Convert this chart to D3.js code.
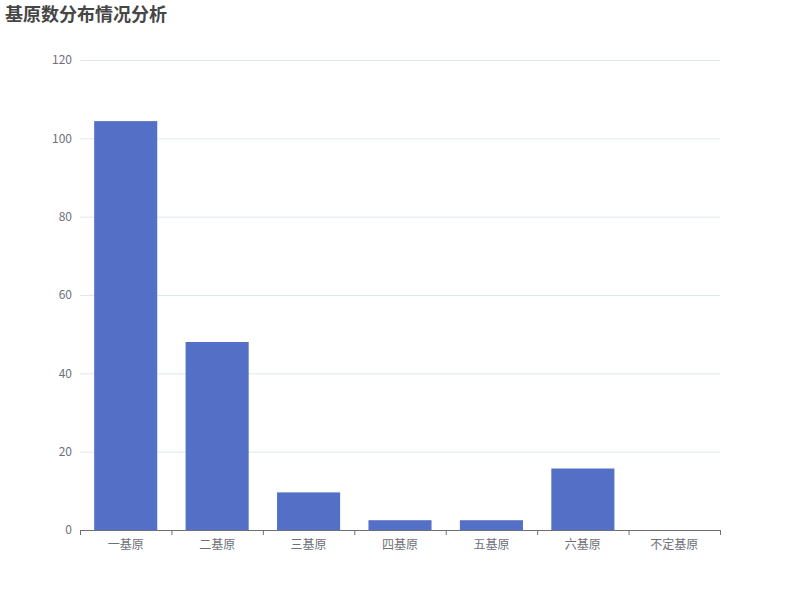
<!DOCTYPE html>
<html>
<head>
<meta charset="utf-8">
<script src="https://cdn.jsdelivr.net/npm/d3@7/dist/d3.min.js"></script>
<style>
  body { margin: 0; background: #fff; }
  svg text { font-family: "Noto Sans CJK SC", "Noto Sans", sans-serif; }
</style>
</head>
<body>
<div id="chart"></div>
<script>
const categories = ['一基原', '二基原', '三基原', '四基原', '五基原', '六基原', '不定基原']
const counts = [104.4, 48, 9.6, 2.5, 2.5, 15.7, 0]
const yTicks = [0, 20, 40, 60, 80, 100, 120]
const title = '基原数分布情况分析'

const margin = {top: 60, right: 80, bottom: 70, left: 80}
const width = 800 - margin.left - margin.right
const height = 600 - margin.top - margin.bottom

const x = d3.scaleBand()
  .domain(categories)
  .range([0, width])
  .paddingInner(0.31)
  .paddingOuter(0.155)
const xAxisScale = d3.scaleBand().domain(categories).range([0, width])
const y = d3.scaleLinear()
  .domain([0, 120])
  .range([height, 0])

const svg = d3.select('#chart').append('svg')
  .attr('width', 800)
  .attr('height', 600)

svg.append('text')
  .attr('x', 5)
  .attr('y', 21)
  .attr('font-size', 18)
  .attr('font-weight', 'bold')
  .attr('fill', '#464646')
  .text(title)

const chart = svg.append('g')
  .attr('transform', `translate(${margin.left}, ${margin.top})`)

// grid
chart.append('g')
  .selectAll('line').data(yTicks.filter((d) => d > 0))
  .enter().append('line')
    .attr('x1', 0)
    .attr('x2', width)
    .attr('y1', (d) => y(d) + 0.5)
    .attr('y2', (d) => y(d) + 0.5)
    .attr('stroke', '#e0e6f1')

// y labels
chart.append('g')
  .selectAll('text').data(yTicks)
  .enter().append('text')
    .attr('x', -8)
    .attr('y', (d) => y(d))
    .attr('dy', '0.35em')
    .attr('text-anchor', 'end')
    .attr('font-size', 12)
    .attr('fill', '#6e7079')
    .text((d) => d)

chart.selectAll('.bar').data(categories)
  .enter().append('rect')
    .attr('x', (d) => x(d))
    .attr('y', (d, i) => y(counts[i]))
    .attr('width', x.bandwidth())
    .attr('height', (d, i) => height - y(counts[i]))
    .attr('fill', '#5470c6')

// x axis
const xAxis = chart.append('g')
  .attr('transform', `translate(0, ${height})`)
xAxis.append('line')
  .attr('x1', 0).attr('x2', width)
  .attr('y1', 0.5).attr('y2', 0.5)
  .attr('stroke', '#6e7079')
xAxis.selectAll('.tick').data(categories.concat(['end']))
  .enter().append('line')
    .attr('x1', (d) => d === 'end' ? width + 0.5 : xAxisScale(d) + 0.5)
    .attr('x2', (d) => d === 'end' ? width + 0.5 : xAxisScale(d) + 0.5)
    .attr('y1', 0)
    .attr('y2', 5)
    .attr('stroke', '#6e7079')
xAxis.selectAll('.label').data(categories)
  .enter().append('text')
    .attr('x', (d) => xAxisScale(d) + xAxisScale.bandwidth() / 2)
    .attr('y', 15)
    .attr('dy', '0.35em')
    .attr('text-anchor', 'middle')
    .attr('font-size', 12)
    .attr('fill', '#6e7079')
    .text((d) => d)
</script>
</body>
</html>
